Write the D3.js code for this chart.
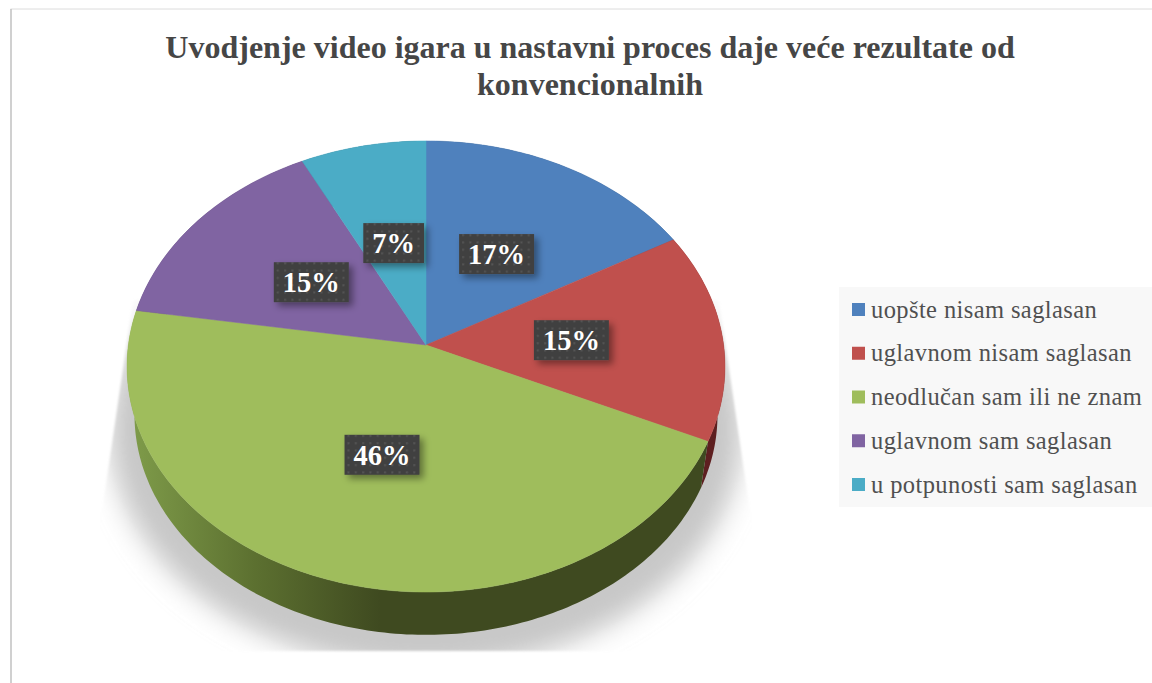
<!DOCTYPE html>
<html>
<head>
<meta charset="utf-8">
<script src="https://cdn.jsdelivr.net/npm/d3@7"></script>
<style>
  html, body { margin: 0; padding: 0; background: #fff; overflow: hidden; }
  svg { display: block; }
</style>
</head>
<body>
<svg id="chart" width="1152" height="683"></svg>
<script>
const title_lines = ["Uvodjenje video igara u nastavni proces daje veće rezultate od", "konvencionalnih"];
const categories = ["uopšte nisam saglasan", "uglavnom nisam saglasan", "neodlučan sam ili ne znam", "uglavnom sam saglasan", "u potpunosti sam saglasan"];
const values = [16.8, 15.0, 45.7, 15.05, 7.45];
const colors = ["#4f81bd", "#c0504d", "#9fbd5c", "#8064a2", "#4bacc6"];
const side_colors = ["#2f4d71", "#5e1f20", "url(#green_side)", "#4c3c61", "#2d6776"];

const svg = d3.select("#chart");
const defs = svg.append("defs");

const color_scale = d3.scaleOrdinal().domain(categories).range(colors);
const side_scale = d3.scaleOrdinal().domain(categories).range(side_colors);

// pie is tilted, so the circle goes through a small perspective map
const cx = 426, cy = 345;
const persp = -0.0953, ky = 223.5, kx = 297.6;

function project(angle, rho = 1) {
  const u = rho * Math.sin(angle), v = -rho * Math.cos(angle);
  const den = 1 + persp * v;
  return [cx + kx * u / den, cy + ky * v / den];
}

// lower rim of the disc
function project_low(angle, s = 0.975, dy = 49) {
  const [x, y] = project(angle);
  return [cx + s * (x - cx), cy + dy + s * (y - cy)];
}

const line = d3.line();
const step = Math.PI / 180;
const full_circle = d3.range(0, 2 * Math.PI, step);

const arcs = d3.pie().sort(null).value(d => d.value)(
  categories.map((name, i) => ({name, value: values[i]}))
);

function samples(d) {
  return d3.range(d.startAngle, d.endAngle, step).concat(d.endAngle);
}

// ---- border
svg.append("line").attr("x1", 10.5).attr("x2", 1152).attr("y1", 9).attr("y2", 9)
  .attr("stroke", "#dcdcdc").attr("stroke-width", 1);
svg.append("line").attr("x1", 11).attr("x2", 11).attr("y1", 9).attr("y2", 683)
  .attr("stroke", "#c0c0c0").attr("stroke-width", 1.5);

// ---- title
svg.append("g").selectAll("text")
  .data(title_lines)
  .enter().append("text")
    .attr("x", 590)
    .attr("y", (d, i) => 58 + i * 37)
    .attr("text-anchor", "middle")
    .attr("font-family", "'Liberation Serif', serif")
    .attr("font-weight", "bold")
    .attr("font-size", 32)
    .attr("fill", "#464646")
    .text(d => d);

// ---- floor shadow
defs.append("filter").attr("id", "soft")
  .attr("x", "-20%").attr("y", "-20%").attr("width", "140%").attr("height", "140%")
  .append("feGaussianBlur").attr("stdDeviation", 13);

defs.append("filter").attr("id", "edge")
  .attr("x", "-5%").attr("y", "-5%").attr("width", "110%").attr("height", "110%")
  .append("feGaussianBlur").attr("stdDeviation", 1.2);

defs.append("clipPath").attr("id", "shadow_clip")
  .append("path").attr("d", line([[133, 300], [719, 300], [760, 580], [760, 651], [92, 651], [92, 580]]) + "Z");

svg.append("g").attr("filter", "url(#edge)")
  .append("g").attr("clip-path", "url(#shadow_clip)")
  .append("path")
    .attr("d", line(full_circle.map(a => project_low(a, 1.06, 62))) + "Z")
    .attr("fill", "#c8c8c8")
    .attr("filter", "url(#soft)");

// ---- sides
const side_grad = defs.append("linearGradient").attr("id", "green_side")
  .attr("gradientUnits", "userSpaceOnUse")
  .attr("x1", 130).attr("x2", 380).attr("y1", 0).attr("y2", 0);
side_grad.append("stop").attr("offset", "0").attr("stop-color", "#7f9c4a");
side_grad.append("stop").attr("offset", "0.5").attr("stop-color", "#5c7030");
side_grad.append("stop").attr("offset", "1").attr("stop-color", "#3f4a20");

svg.append("g").selectAll("path")
  .data(arcs)
  .enter().append("path")
    .attr("d", d => {
      const a = samples(d);
      return line(a.map(t => project(t)).concat(a.slice().reverse().map(t => project_low(t)))) + "Z";
    })
    .attr("fill", d => side_scale(d.data.name));

// ---- top faces
svg.append("g").selectAll("path")
  .data(arcs)
  .enter().append("path")
    .attr("d", d => line([[cx, cy]].concat(samples(d).map(t => project(t)))) + "Z")
    .attr("fill", d => color_scale(d.data.name))
    .attr("stroke", d => color_scale(d.data.name))
    .attr("stroke-width", 0.5);

// ---- data labels
const dots = defs.append("pattern").attr("id", "dots")
  .attr("patternUnits", "userSpaceOnUse").attr("width", 7.3).attr("height", 7.3);
dots.append("rect").attr("width", 7.3).attr("height", 7.3).attr("fill", "#404040");
dots.append("rect").attr("x", 2).attr("y", 2).attr("width", 2).attr("height", 2).attr("fill", "#555");

const label_shadow = defs.append("filter").attr("id", "label_shadow")
  .attr("x", "-30%").attr("y", "-30%").attr("width", "170%").attr("height", "170%");
label_shadow.append("feDropShadow")
  .attr("dx", 4).attr("dy", 4).attr("stdDeviation", 3.5)
  .attr("flood-color", "#000").attr("flood-opacity", 0.4);

const label = svg.append("g").selectAll("g")
  .data(arcs)
  .enter().append("g")
    .attr("transform", d => `translate(${project((d.startAngle + d.endAngle) / 2, 0.49)})`);

label.append("rect")
  .attr("fill", "url(#dots)")
  .attr("filter", "url(#label_shadow)");

label.append("text")
  .attr("text-anchor", "middle")
  .attr("y", 10)
  .attr("font-family", "'Liberation Serif', serif")
  .attr("font-weight", "bold")
  .attr("font-size", 28.5)
  .attr("fill", "#fff")
  .text(d => Math.round(d.data.value) + "%");

label.each(function() {
  const w = d3.select(this).select("text").node().getComputedTextLength() + 18;
  d3.select(this).select("rect")
    .attr("x", -w / 2).attr("y", -20).attr("width", w).attr("height", 40);
});

// ---- legend
svg.append("rect")
  .attr("x", 839).attr("y", 287).attr("width", 313).attr("height", 220)
  .attr("fill", "#f8f8f8");

const legend_y = d3.scalePoint().domain(categories).range([309.5, 484.5]);

const legend = svg.append("g").selectAll("g")
  .data(categories)
  .enter().append("g")
    .attr("transform", d => `translate(852,${legend_y(d)})`);

legend.append("rect")
  .attr("y", -6.5).attr("width", 13).attr("height", 13)
  .attr("fill", d => color_scale(d));

legend.append("text")
  .attr("x", 19).attr("y", 8)
  .attr("font-family", "'Liberation Serif', serif")
  .attr("font-size", 24.5)
  .attr("letter-spacing", 0.4)
  .attr("fill", "#505050")
  .text(d => d);
</script>
</body>
</html>
